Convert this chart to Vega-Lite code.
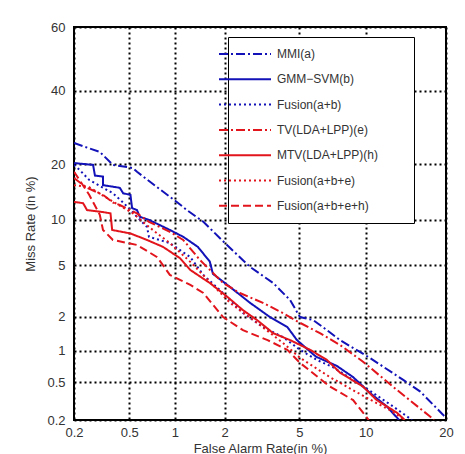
{
  "$schema": "https://vega.github.io/schema/vega-lite/v6.json",
  "width": 372,
  "height": 393,
  "autosize": "none",
  "padding": {"left": 74, "top": 27, "right": 19, "bottom": 34},
  "background": "white",
  "config": {
    "font": "Liberation Sans",
    "view": {"stroke": "black", "strokeWidth": 2},
    "axis": {
      "domain": false,
      "ticks": false,
      "grid": true,
      "gridColor": "#000000",
      "gridDash": [2, 3],
      "gridWidth": 2,
      "labelFont": "Liberation Sans",
      "labelFontSize": 13,
      "labelColor": "#333333",
      "titleFont": "Liberation Sans",
      "titleFontSize": 13,
      "titleFontWeight": "normal",
      "titleColor": "#333333",
      "labelFlush": false,
      "labelOverlap": false,
      "labelBound": false
    }
  },
  "data": {
    "values": [
      {"s": "MMI(a)", "fa": 0.2, "miss": 25.1},
      {"s": "MMI(a)", "fa": 0.31, "miss": 22.9},
      {"s": "MMI(a)", "fa": 0.385, "miss": 19.9},
      {"s": "MMI(a)", "fa": 0.53, "miss": 19.2},
      {"s": "MMI(a)", "fa": 0.565, "miss": 18.4},
      {"s": "MMI(a)", "fa": 0.77, "miss": 15.3},
      {"s": "MMI(a)", "fa": 1.03, "miss": 12.7},
      {"s": "MMI(a)", "fa": 1.19, "miss": 11.4},
      {"s": "MMI(a)", "fa": 1.5, "miss": 9.7},
      {"s": "MMI(a)", "fa": 2.01, "miss": 7.1},
      {"s": "MMI(a)", "fa": 2.78, "miss": 4.86},
      {"s": "MMI(a)", "fa": 3.69, "miss": 3.7},
      {"s": "MMI(a)", "fa": 4.5, "miss": 2.73},
      {"s": "MMI(a)", "fa": 5.04, "miss": 1.98},
      {"s": "MMI(a)", "fa": 5.83, "miss": 1.87},
      {"s": "MMI(a)", "fa": 6.77, "miss": 1.53},
      {"s": "MMI(a)", "fa": 7.75, "miss": 1.25},
      {"s": "MMI(a)", "fa": 10.4, "miss": 0.86},
      {"s": "MMI(a)", "fa": 14.1, "miss": 0.525},
      {"s": "MMI(a)", "fa": 16.3, "miss": 0.4},
      {"s": "MMI(a)", "fa": 19.5, "miss": 0.23},
      {"s": "MMI(a)", "fa": 20, "miss": 0.21},

      {"s": "GMM−SVM(b)", "fa": 0.2, "miss": 20.3},
      {"s": "GMM−SVM(b)", "fa": 0.277, "miss": 19.9},
      {"s": "GMM−SVM(b)", "fa": 0.286, "miss": 17.6},
      {"s": "GMM−SVM(b)", "fa": 0.327, "miss": 17.4},
      {"s": "GMM−SVM(b)", "fa": 0.327, "miss": 15.7},
      {"s": "GMM−SVM(b)", "fa": 0.43, "miss": 15.2},
      {"s": "GMM−SVM(b)", "fa": 0.454, "miss": 14.2},
      {"s": "GMM−SVM(b)", "fa": 0.51, "miss": 13.9},
      {"s": "GMM−SVM(b)", "fa": 0.523, "miss": 11.7},
      {"s": "GMM−SVM(b)", "fa": 0.565, "miss": 11.4},
      {"s": "GMM−SVM(b)", "fa": 0.59, "miss": 10.4},
      {"s": "GMM−SVM(b)", "fa": 0.68, "miss": 9.96},
      {"s": "GMM−SVM(b)", "fa": 0.93, "miss": 8.63},
      {"s": "GMM−SVM(b)", "fa": 1.13, "miss": 7.8},
      {"s": "GMM−SVM(b)", "fa": 1.39, "miss": 6.7},
      {"s": "GMM−SVM(b)", "fa": 1.64, "miss": 5.3},
      {"s": "GMM−SVM(b)", "fa": 1.71, "miss": 4.33},
      {"s": "GMM−SVM(b)", "fa": 2.15, "miss": 3.45},
      {"s": "GMM−SVM(b)", "fa": 2.78, "miss": 2.59},
      {"s": "GMM−SVM(b)", "fa": 3.55, "miss": 1.98},
      {"s": "GMM−SVM(b)", "fa": 4.36, "miss": 1.63},
      {"s": "GMM−SVM(b)", "fa": 4.87, "miss": 1.25},
      {"s": "GMM−SVM(b)", "fa": 6.02, "miss": 0.88},
      {"s": "GMM−SVM(b)", "fa": 7.5, "miss": 0.72},
      {"s": "GMM−SVM(b)", "fa": 8.85, "miss": 0.56},
      {"s": "GMM−SVM(b)", "fa": 10.4, "miss": 0.39},
      {"s": "GMM−SVM(b)", "fa": 12.2, "miss": 0.28},
      {"s": "GMM−SVM(b)", "fa": 13.6, "miss": 0.2},

      {"s": "Fusion(a+b)", "fa": 0.2, "miss": 19.9},
      {"s": "Fusion(a+b)", "fa": 0.22, "miss": 18.8},
      {"s": "Fusion(a+b)", "fa": 0.26, "miss": 16.7},
      {"s": "Fusion(a+b)", "fa": 0.385, "miss": 14.2},
      {"s": "Fusion(a+b)", "fa": 0.454, "miss": 12.6},
      {"s": "Fusion(a+b)", "fa": 0.565, "miss": 10.4},
      {"s": "Fusion(a+b)", "fa": 0.66, "miss": 9.0},
      {"s": "Fusion(a+b)", "fa": 0.68, "miss": 7.8},
      {"s": "Fusion(a+b)", "fa": 0.93, "miss": 7.1},
      {"s": "Fusion(a+b)", "fa": 1.25, "miss": 5.7},
      {"s": "Fusion(a+b)", "fa": 1.5, "miss": 4.25},
      {"s": "Fusion(a+b)", "fa": 1.96, "miss": 3.1},
      {"s": "Fusion(a+b)", "fa": 2.54, "miss": 2.14},
      {"s": "Fusion(a+b)", "fa": 3.26, "miss": 1.63},
      {"s": "Fusion(a+b)", "fa": 4.14, "miss": 1.33},
      {"s": "Fusion(a+b)", "fa": 5.04, "miss": 1.02},
      {"s": "Fusion(a+b)", "fa": 6.08, "miss": 0.82},
      {"s": "Fusion(a+b)", "fa": 7.2, "miss": 0.7},
      {"s": "Fusion(a+b)", "fa": 8.85, "miss": 0.525},
      {"s": "Fusion(a+b)", "fa": 10.7, "miss": 0.39},
      {"s": "Fusion(a+b)", "fa": 12.9, "miss": 0.28},
      {"s": "Fusion(a+b)", "fa": 15.2, "miss": 0.2},

      {"s": "TV(LDA+LPP)(e)", "fa": 0.2, "miss": 17.1},
      {"s": "TV(LDA+LPP)(e)", "fa": 0.25, "miss": 15.2},
      {"s": "TV(LDA+LPP)(e)", "fa": 0.327, "miss": 13.9},
      {"s": "TV(LDA+LPP)(e)", "fa": 0.385, "miss": 12.6},
      {"s": "TV(LDA+LPP)(e)", "fa": 0.43, "miss": 12.2},
      {"s": "TV(LDA+LPP)(e)", "fa": 0.565, "miss": 10.9},
      {"s": "TV(LDA+LPP)(e)", "fa": 0.68, "miss": 9.7},
      {"s": "TV(LDA+LPP)(e)", "fa": 0.93, "miss": 8.4},
      {"s": "TV(LDA+LPP)(e)", "fa": 1.13, "miss": 7.44},
      {"s": "TV(LDA+LPP)(e)", "fa": 1.43, "miss": 5.45},
      {"s": "TV(LDA+LPP)(e)", "fa": 1.96, "miss": 3.7},
      {"s": "TV(LDA+LPP)(e)", "fa": 2.44, "miss": 3.1},
      {"s": "TV(LDA+LPP)(e)", "fa": 3.26, "miss": 2.59},
      {"s": "TV(LDA+LPP)(e)", "fa": 4.14, "miss": 2.14},
      {"s": "TV(LDA+LPP)(e)", "fa": 5.04, "miss": 1.77},
      {"s": "TV(LDA+LPP)(e)", "fa": 6.28, "miss": 1.44},
      {"s": "TV(LDA+LPP)(e)", "fa": 7.75, "miss": 1.13},
      {"s": "TV(LDA+LPP)(e)", "fa": 9.75, "miss": 0.79},
      {"s": "TV(LDA+LPP)(e)", "fa": 13.35, "miss": 0.416},
      {"s": "TV(LDA+LPP)(e)", "fa": 17.6, "miss": 0.22},
      {"s": "TV(LDA+LPP)(e)", "fa": 18.2, "miss": 0.2},

      {"s": "MTV(LDA+LPP)(h)", "fa": 0.2, "miss": 12.7},
      {"s": "MTV(LDA+LPP)(h)", "fa": 0.234, "miss": 12.5},
      {"s": "MTV(LDA+LPP)(h)", "fa": 0.25, "miss": 11.4},
      {"s": "MTV(LDA+LPP)(h)", "fa": 0.327, "miss": 11.1},
      {"s": "MTV(LDA+LPP)(h)", "fa": 0.37, "miss": 10.9},
      {"s": "MTV(LDA+LPP)(h)", "fa": 0.38, "miss": 8.63},
      {"s": "MTV(LDA+LPP)(h)", "fa": 0.51, "miss": 8.2},
      {"s": "MTV(LDA+LPP)(h)", "fa": 0.66, "miss": 7.44},
      {"s": "MTV(LDA+LPP)(h)", "fa": 0.84, "miss": 6.7},
      {"s": "MTV(LDA+LPP)(h)", "fa": 1.08, "miss": 5.6},
      {"s": "MTV(LDA+LPP)(h)", "fa": 1.25, "miss": 4.62},
      {"s": "MTV(LDA+LPP)(h)", "fa": 1.64, "miss": 3.7},
      {"s": "MTV(LDA+LPP)(h)", "fa": 2.07, "miss": 2.9},
      {"s": "MTV(LDA+LPP)(h)", "fa": 2.54, "miss": 2.26},
      {"s": "MTV(LDA+LPP)(h)", "fa": 3.03, "miss": 1.87},
      {"s": "MTV(LDA+LPP)(h)", "fa": 3.69, "miss": 1.44},
      {"s": "MTV(LDA+LPP)(h)", "fa": 4.5, "miss": 1.25},
      {"s": "MTV(LDA+LPP)(h)", "fa": 5.64, "miss": 1.02},
      {"s": "MTV(LDA+LPP)(h)", "fa": 6.77, "miss": 0.82},
      {"s": "MTV(LDA+LPP)(h)", "fa": 7.75, "miss": 0.62},
      {"s": "MTV(LDA+LPP)(h)", "fa": 9.75, "miss": 0.45},
      {"s": "MTV(LDA+LPP)(h)", "fa": 11.1, "miss": 0.327},
      {"s": "MTV(LDA+LPP)(h)", "fa": 13.35, "miss": 0.24},
      {"s": "MTV(LDA+LPP)(h)", "fa": 14.3, "miss": 0.2},

      {"s": "Fusion(a+b+e)", "fa": 0.2, "miss": 15.7},
      {"s": "Fusion(a+b+e)", "fa": 0.26, "miss": 15.3},
      {"s": "Fusion(a+b+e)", "fa": 0.37, "miss": 13.0},
      {"s": "Fusion(a+b+e)", "fa": 0.53, "miss": 10.9},
      {"s": "Fusion(a+b+e)", "fa": 0.72, "miss": 8.63},
      {"s": "Fusion(a+b+e)", "fa": 0.93, "miss": 7.1},
      {"s": "Fusion(a+b+e)", "fa": 1.25, "miss": 5.28},
      {"s": "Fusion(a+b+e)", "fa": 1.64, "miss": 3.77},
      {"s": "Fusion(a+b+e)", "fa": 2.15, "miss": 2.59},
      {"s": "Fusion(a+b+e)", "fa": 3.03, "miss": 1.77},
      {"s": "Fusion(a+b+e)", "fa": 4.14, "miss": 1.18},
      {"s": "Fusion(a+b+e)", "fa": 5.04, "miss": 0.86},
      {"s": "Fusion(a+b+e)", "fa": 6.98, "miss": 0.56},
      {"s": "Fusion(a+b+e)", "fa": 10.0, "miss": 0.35},
      {"s": "Fusion(a+b+e)", "fa": 12.5, "miss": 0.257},
      {"s": "Fusion(a+b+e)", "fa": 14.3, "miss": 0.2},

      {"s": "Fusion(a+b+e+h)", "fa": 0.2, "miss": 18.4},
      {"s": "Fusion(a+b+e+h)", "fa": 0.22, "miss": 16.7},
      {"s": "Fusion(a+b+e+h)", "fa": 0.26, "miss": 13.9},
      {"s": "Fusion(a+b+e+h)", "fa": 0.31, "miss": 10.7},
      {"s": "Fusion(a+b+e+h)", "fa": 0.327, "miss": 8.63},
      {"s": "Fusion(a+b+e+h)", "fa": 0.385, "miss": 7.44},
      {"s": "Fusion(a+b+e+h)", "fa": 0.565, "miss": 6.9},
      {"s": "Fusion(a+b+e+h)", "fa": 0.77, "miss": 5.7},
      {"s": "Fusion(a+b+e+h)", "fa": 0.93, "miss": 4.25},
      {"s": "Fusion(a+b+e+h)", "fa": 1.25, "miss": 3.58},
      {"s": "Fusion(a+b+e+h)", "fa": 1.5, "miss": 3.1},
      {"s": "Fusion(a+b+e+h)", "fa": 1.96, "miss": 1.98},
      {"s": "Fusion(a+b+e+h)", "fa": 2.54, "miss": 1.53},
      {"s": "Fusion(a+b+e+h)", "fa": 3.45, "miss": 1.25},
      {"s": "Fusion(a+b+e+h)", "fa": 4.36, "miss": 1.02},
      {"s": "Fusion(a+b+e+h)", "fa": 5.04, "miss": 0.77},
      {"s": "Fusion(a+b+e+h)", "fa": 6.98, "miss": 0.45},
      {"s": "Fusion(a+b+e+h)", "fa": 8.85, "miss": 0.327},
      {"s": "Fusion(a+b+e+h)", "fa": 9.75, "miss": 0.24},
      {"s": "Fusion(a+b+e+h)", "fa": 10.3, "miss": 0.2}
    ]
  },
  "transform": [
    {"calculate": "quantileNormal(datum.fa / 100)", "as": "zx"},
    {"calculate": "quantileNormal(datum.miss / 100)", "as": "zy"}
  ],
  "mark": {"type": "line", "strokeWidth": 2, "clip": true},
  "encoding": {
    "x": {
      "field": "zx",
      "type": "quantitative",
      "scale": {"domain": [-2.878162, -0.841621], "nice": false, "zero": false},
      "axis": {
        "values": [-2.878162, -2.575829, -2.326348, -2.053749, -1.644854, -1.281552, -0.841621],
        "labelExpr": "format(cumulativeNormal(datum.value) * 100, '.1~f')",
        "title": "False Alarm Rate(in %)",
        "labelPadding": 6,
        "titlePadding": 3
      }
    },
    "y": {
      "field": "zy",
      "type": "quantitative",
      "scale": {"domain": [-2.878162, 0.253347], "nice": false, "zero": false},
      "axis": {
        "values": [-2.878162, -2.575829, -2.326348, -2.053749, -1.644854, -1.281552, -0.841621, -0.253347, 0.253347],
        "labelExpr": "format(cumulativeNormal(datum.value) * 100, '.1~f')",
        "title": "Miss Rate (in %)",
        "labelPadding": 9,
        "titlePadding": 9
      }
    },
    "color": {
      "field": "s",
      "type": "nominal",
      "scale": {
        "domain": ["MMI(a)", "GMM−SVM(b)", "Fusion(a+b)", "TV(LDA+LPP)(e)", "MTV(LDA+LPP)(h)", "Fusion(a+b+e)", "Fusion(a+b+e+h)"],
        "range": ["#1212b8", "#1212b8", "#1212b8", "#e2141c", "#e2141c", "#e2141c", "#e2141c"]
      },
      "legend": {
        "title": null,
        "orient": "none",
        "legendX": 154,
        "legendY": 10,
        "symbolType": "M-5.2,0H5.2M30.8,0",
        "symbolSize": 100,
        "symbolStrokeWidth": 2,
        "labelOffset": 26,
        "labelFontSize": 12,
        "labelColor": "#333333",
        "rowPadding": 13.3,
        "padding": 11,
        "strokeColor": "#000000",
        "fillColor": "#ffffff"
      }
    },
    "strokeDash": {
      "field": "s",
      "type": "nominal",
      "scale": {
        "domain": ["MMI(a)", "GMM−SVM(b)", "Fusion(a+b)", "TV(LDA+LPP)(e)", "MTV(LDA+LPP)(h)", "Fusion(a+b+e)", "Fusion(a+b+e+h)"],
        "range": [[9, 3, 2, 3], [1, 0], [2, 3], [9, 3, 2, 3], [1, 0], [2, 3], [8, 4]]
      },
      "legend": {
        "title": null,
        "orient": "none",
        "legendX": 154,
        "legendY": 10,
        "symbolType": "M-5.2,0H5.2M30.8,0",
        "symbolSize": 100,
        "symbolStrokeWidth": 2,
        "labelOffset": 26,
        "labelFontSize": 12,
        "labelColor": "#333333",
        "rowPadding": 13.3,
        "padding": 11,
        "strokeColor": "#000000",
        "fillColor": "#ffffff"
      }
    },
    "order": {"value": null}
  }
}
